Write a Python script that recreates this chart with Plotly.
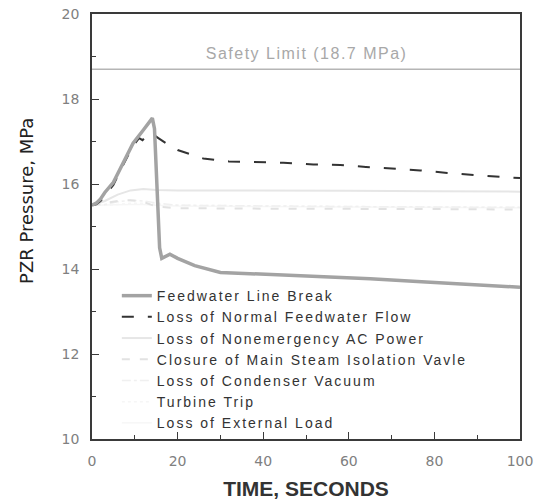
import plotly.graph_objects as go

# Feedwater Line Break
t_fwlb = [0, 1, 2, 3, 5, 7.3, 9.6, 12, 13, 14.1, 14.6, 15.2, 15.8, 16.3, 17, 18.2, 20, 24, 30, 40, 54, 65, 77, 90, 100]
p_fwlb = [15.5, 15.55, 15.65, 15.8, 16.04, 16.5, 16.96, 17.27, 17.4, 17.55, 17.3, 15.85, 14.5, 14.25, 14.28, 14.35, 14.25, 14.08, 13.92, 13.88, 13.83, 13.77, 13.7, 13.63, 13.57]

# Loss of Normal Feedwater Flow
t_lonf = [0, 1, 2, 3, 5, 7.3, 9.6, 11, 11.8, 13.1, 14.5, 15.5, 17.7, 20, 26, 32, 38.5, 44.7, 51.7, 58, 64, 70, 76.7, 83, 90, 96.5, 100]
p_lonf = [15.5, 15.52, 15.6, 15.72, 15.98, 16.45, 16.9, 17.08, 17.03, 17.17, 17.15, 17.08, 16.93, 16.8, 16.6, 16.53, 16.52, 16.5, 16.46, 16.45, 16.4, 16.36, 16.32, 16.26, 16.2, 16.16, 16.14]

# Faint transients
t_faint = [0, 3, 6, 9, 12, 15, 20, 40, 60, 80, 100]
p_acpower = [15.5, 15.6, 15.75, 15.85, 15.88, 15.86, 15.85, 15.85, 15.84, 15.83, 15.82]
p_msiv = [15.5, 15.55, 15.6, 15.62, 15.58, 15.47, 15.43, 15.42, 15.42, 15.41, 15.40]
p_condvac = [15.5, 15.52, 15.58, 15.62, 15.6, 15.55, 15.5, 15.48, 15.47, 15.46, 15.45]
p_turbine = [15.5, 15.5, 15.52, 15.55, 15.55, 15.52, 15.5, 15.48, 15.47, 15.46, 15.45]
p_extload = [15.5, 15.5, 15.51, 15.52, 15.52, 15.5, 15.48, 15.47, 15.46, 15.45, 15.44]

safety_limit = 18.7
t_range = [0, 100]

FONT = "DejaVu Sans, Verdana, sans-serif"
ARIAL = "Liberation Sans, Arial, sans-serif"

fig = go.Figure()

fig.add_trace(go.Scatter(x=t_range, y=[safety_limit, safety_limit], mode="lines",
                         line=dict(color="#b5b5b5", width=1.5), showlegend=False, hoverinfo="skip"))

fig.add_trace(go.Scatter(x=t_faint, y=p_extload, mode="lines", name="Loss of External Load",
                         line=dict(color="#f6f6f6", width=1.5), legendrank=7))
fig.add_trace(go.Scatter(x=t_faint, y=p_turbine, mode="lines", name="Turbine Trip",
                         line=dict(color="#f6f6f6", width=1.5, dash="dot"), legendrank=6))
fig.add_trace(go.Scatter(x=t_faint, y=p_condvac, mode="lines", name="Loss of Condenser Vacuum",
                         line=dict(color="#f0f0f0", width=1.5, dash="dashdot"), legendrank=5))
fig.add_trace(go.Scatter(x=t_faint, y=p_msiv, mode="lines", name="Closure of Main Steam Isolation Vavle",
                         line=dict(color="#e2e2e2", width=2, dash="8px,10px"), legendrank=4))
fig.add_trace(go.Scatter(x=t_faint, y=p_acpower, mode="lines", name="Loss of Nonemergency AC Power",
                         line=dict(color="#e6e6e6", width=2), legendrank=3))
fig.add_trace(go.Scatter(x=t_lonf, y=p_lonf, mode="lines", name="Loss of Normal Feedwater Flow",
                         line=dict(color="#333333", width=2, dash="12px,14px"), legendrank=2))
fig.add_trace(go.Scatter(x=t_fwlb, y=p_fwlb, mode="lines", name="Feedwater Line Break",
                         line=dict(color="#a3a3a3", width=3.5), legendrank=1))

fig.add_annotation(x=50, y=19.08, xref="x", yref="y", text="Safety Limit (18.7 MPa)",
                   showarrow=False, font=dict(family=ARIAL, size=16, color="#a8a8a8"))

# y-axis title placed as annotation (offset upward like the reference)
fig.add_annotation(x=-0.152, y=0.56, xref="paper", yref="paper", text="PZR Pressure, MPa",
                   textangle=-90, showarrow=False, xanchor="center", yanchor="middle",
                   font=dict(family=FONT, size=18, color="#222222"))

axis_common = dict(showgrid=False, zeroline=False, showline=True, linecolor="#3a3a3a", linewidth=1.5,
                   mirror=True, ticks="inside", ticklen=7, tickcolor="#3a3a3a", ticklabelstandoff=8,
                   automargin=False,
                   tickfont=dict(family=FONT, size=14, color="#808080"))

fig.update_xaxes(range=[0, 100], tickvals=[0, 20, 40, 60, 80, 100],
                 minor=dict(ticks="inside", ticklen=4, tickvals=[10, 30, 50, 70, 90], tickcolor="#3a3a3a"),
                 title=dict(text="<b>TIME, SECONDS</b>", standoff=14,
                            font=dict(family=ARIAL, size=21, color="#333333")),
                 **axis_common)
fig.update_yaxes(range=[10, 20], tickvals=[10, 12, 14, 16, 18, 20],
                 minor=dict(ticks="inside", ticklen=4, tickvals=[11, 13, 15, 17, 19], tickcolor="#3a3a3a"),
                 **axis_common)

fig.update_layout(
    width=541, height=502,
    margin=dict(l=92, r=21, t=14, b=63, autoexpand=False),
    paper_bgcolor="white", plot_bgcolor="white",
    showlegend=True,
    legend=dict(x=0.058, y=0.374, xanchor="left", yanchor="top", bgcolor="rgba(0,0,0,0)",
                font=dict(family=ARIAL, size=14, color="#333333"),
                traceorder="normal", tracegroupgap=0),
)

post = """
document.body.style.margin='0';
function spread(){
  document.querySelectorAll('.legendtext').forEach(function(e){e.style.letterSpacing='2px';});
  document.querySelectorAll('.legend .scrollbox, .legend [clip-path]').forEach(function(e){e.removeAttribute('clip-path');});
  var a = document.querySelectorAll('.annotation-text');
  if (a.length) { a[0].style.letterSpacing='1.5px'; }
}
spread();
var gd = document.getElementById('{plot_id}');
if (gd && gd.on) { gd.on('plotly_afterplot', spread); }
"""

fig.write_html("out.html", post_script=post, config={"displayModeBar": False})
